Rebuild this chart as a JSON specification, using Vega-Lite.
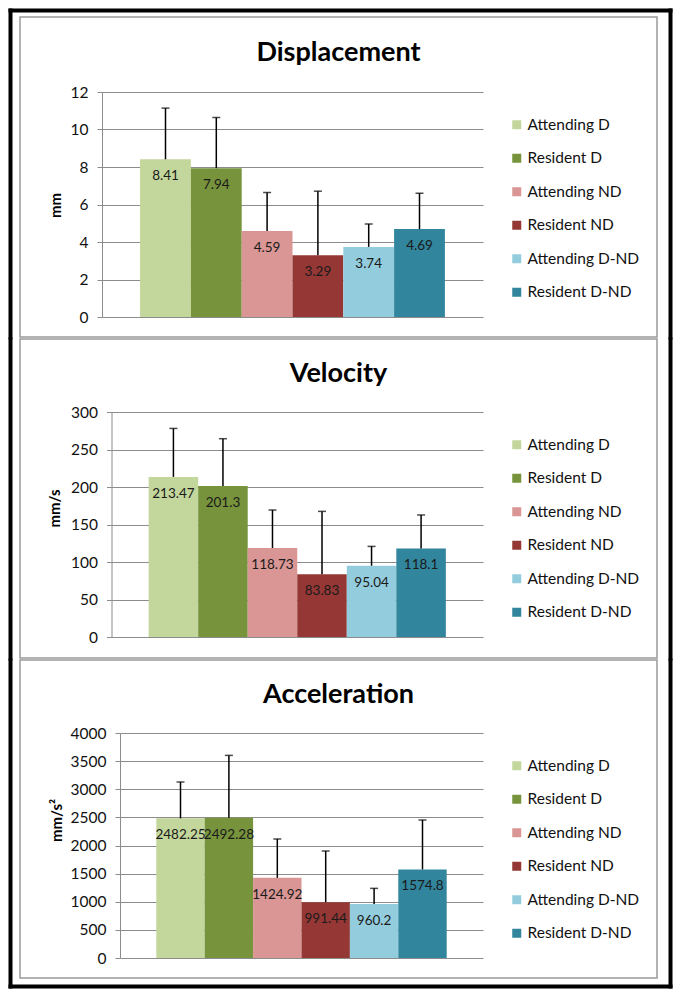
{
  "$schema": "https://vega.github.io/schema/vega-lite/v6.json",
  "background": "white",
  "padding": {"left": 4, "top": 4, "right": 4, "bottom": 4},
  "config": {
    "view": {"stroke": "#9a9a9a", "strokeWidth": 1.5},
    "font": "Lato",
    "title": {"font": "Lato", "fontSize": 27, "fontWeight": "bold", "color": "#000", "anchor": "middle", "frame": "group"}
  },
  "spacing": 2,
  "bounds": "flush",
  "resolve": {"scale": {"color": "independent"}, "legend": {"color": "independent"}},
  "vconcat": [
    {
      "width": 637, "height": 320,
      "title": {"text": "Displacement", "offset": -62},
      "data": {"values": [
        {"group": "Attending D", "value": 8.41, "hi": 11.14},
        {"group": "Resident D", "value": 7.94, "hi": 10.64},
        {"group": "Attending ND", "value": 4.59, "hi": 6.64},
        {"group": "Resident ND", "value": 3.29, "hi": 6.71},
        {"group": "Attending D-ND", "value": 3.74, "hi": 4.96},
        {"group": "Resident D-ND", "value": 4.69, "hi": 6.60}
      ]},
      "resolve": {"scale": {"x": "independent", "y": "independent"}, "axis": {"x": "independent", "y": "independent"}},
      "layer": [
        {
          "encoding": {
            "x": {"field": "group", "type": "nominal", "sort": null, "axis": null,
                  "scale": {"domain": ["Attending D", "Resident D", "Attending ND", "Resident ND", "Attending D-ND", "Resident D-ND"], "range": [82, 463], "paddingInner": 0, "paddingOuter": 0.75}},
            "y": {"field": "value", "type": "quantitative",
                  "scale": {"domain": [0, 12], "range": [300, 75], "nice": false, "zero": true},
                  "axis": {"orient": "left", "offset": -82, "values": [0, 2, 4, 6, 8, 10, 12], "format": "d", "grid": true, "gridColor": "#8c8c8c", "gridWidth": 1,
                           "domainColor": "#8c8c8c", "tickColor": "#8c8c8c", "tickSize": 5, "labelFont": "Lato", "labelFontSize": 15.5, "labelColor": "#111",
                           "labelPadding": 9, "title": "mm", "titleFont": "Lato", "titleFontSize": 15, "titleFontWeight": "bold", "titleColor": "#000",
                           "titleAngle": 270, "titleX": -47, "titleY": 188, "titleAlign": "center", "titleBaseline": "middle"}}
          },
          "layer": [
            {"mark": {"type": "bar"},
             "encoding": {"color": {"field": "group", "type": "nominal",
               "scale": {"domain": ["Attending D", "Resident D", "Attending ND", "Resident ND", "Attending D-ND", "Resident D-ND"], "range": ["#C3D69B", "#77933C", "#D99694", "#953735", "#93CDDD", "#31859C"]},
               "legend": {"orient": "none", "legendX": 489, "legendY": 100, "title": null, "symbolType": "square", "symbolSize": 81, "symbolStrokeWidth": 0,
                          "labelFont": "Lato", "labelFontSize": 15.5, "labelColor": "#111", "labelOffset": 3, "rowPadding": 16.5, "padding": 0}}}},
            {"mark": {"type": "rule", "color": "#000", "strokeWidth": 1.5}, "encoding": {"y2": {"field": "hi"}}},
            {"mark": {"type": "tick", "color": "#000", "thickness": 1.5, "size": 8}, "encoding": {"y": {"field": "hi", "type": "quantitative"}}},
            {"mark": {"type": "text", "font": "Lato", "fontSize": 13.5, "baseline": "middle", "dy": 17, "color": "#1a1a1a"},
             "encoding": {"text": {"field": "value", "type": "nominal"}}}
          ]
        },
        {"mark": {"type": "point", "opacity": 0},
         "encoding": {"y": {"datum": 0, "type": "quantitative", "scale": {"domain": [0, 1], "range": [-9, 322]},
           "axis": {"orient": "left", "offset": 10, "grid": false, "ticks": false, "labels": false, "title": null, "domainColor": "#000", "domainWidth": 4}}}},
        {"mark": {"type": "point", "opacity": 0},
         "encoding": {"y": {"datum": 0, "type": "quantitative", "scale": {"domain": [0, 1], "range": [-9, 322]},
           "axis": {"orient": "right", "offset": 13, "grid": false, "ticks": false, "labels": false, "title": null, "domainColor": "#000", "domainWidth": 4}}}},
        {"mark": {"type": "point", "opacity": 0},
         "encoding": {"x": {"datum": 0, "type": "quantitative", "scale": {"domain": [0, 1], "range": [-12, 652]},
           "axis": {"orient": "top", "offset": 7, "grid": false, "ticks": false, "labels": false, "title": null, "domainColor": "#000", "domainWidth": 4}}}}
      ]
    },
    {
      "width": 637, "height": 319,
      "title": {"text": "Velocity", "offset": -54},
      "data": {"values": [
        {"group": "Attending D", "value": 213.47, "hi": 278.1},
        {"group": "Resident D", "value": 201.3, "hi": 264.4},
        {"group": "Attending ND", "value": 118.73, "hi": 169.3},
        {"group": "Resident ND", "value": 83.83, "hi": 167.5},
        {"group": "Attending D-ND", "value": 95.04, "hi": 120.8},
        {"group": "Resident D-ND", "value": 118.1, "hi": 162.7}
      ]},
      "resolve": {"scale": {"x": "independent", "y": "independent"}, "axis": {"x": "independent", "y": "independent"}},
      "layer": [
        {
          "encoding": {
            "x": {"field": "group", "type": "nominal", "sort": null, "axis": null,
                  "scale": {"domain": ["Attending D", "Resident D", "Attending ND", "Resident ND", "Attending D-ND", "Resident D-ND"], "range": [91.5, 463], "paddingInner": 0, "paddingOuter": 0.75}},
            "y": {"field": "value", "type": "quantitative",
                  "scale": {"domain": [0, 300], "range": [298, 73], "nice": false, "zero": true},
                  "axis": {"orient": "left", "offset": -91.5, "values": [0, 50, 100, 150, 200, 250, 300], "format": "d", "grid": true, "gridColor": "#8c8c8c", "gridWidth": 1,
                           "domainColor": "#8c8c8c", "tickColor": "#8c8c8c", "tickSize": 5, "labelFont": "Lato", "labelFontSize": 15.5, "labelColor": "#111",
                           "labelPadding": 9, "title": "mm/s", "titleFont": "Lato", "titleFontSize": 15, "titleFontWeight": "bold", "titleColor": "#000",
                           "titleAngle": 270, "titleX": -57.5, "titleY": 169, "titleAlign": "center", "titleBaseline": "middle"}}
          },
          "layer": [
            {"mark": {"type": "bar"},
             "encoding": {"color": {"field": "group", "type": "nominal",
               "scale": {"domain": ["Attending D", "Resident D", "Attending ND", "Resident ND", "Attending D-ND", "Resident D-ND"], "range": ["#C3D69B", "#77933C", "#D99694", "#953735", "#93CDDD", "#31859C"]},
               "legend": {"orient": "none", "legendX": 489, "legendY": 98, "title": null, "symbolType": "square", "symbolSize": 81, "symbolStrokeWidth": 0,
                          "labelFont": "Lato", "labelFontSize": 15.5, "labelColor": "#111", "labelOffset": 3, "rowPadding": 16.5, "padding": 0}}}},
            {"mark": {"type": "rule", "color": "#000", "strokeWidth": 1.5}, "encoding": {"y2": {"field": "hi"}}},
            {"mark": {"type": "tick", "color": "#000", "thickness": 1.5, "size": 8}, "encoding": {"y": {"field": "hi", "type": "quantitative"}}},
            {"mark": {"type": "text", "font": "Lato", "fontSize": 13.5, "baseline": "middle", "dy": 17, "color": "#1a1a1a"},
             "encoding": {"text": {"field": "value", "type": "nominal"}}}
          ]
        },
        {"mark": {"type": "point", "opacity": 0},
         "encoding": {"y": {"datum": 0, "type": "quantitative", "scale": {"domain": [0, 1], "range": [-2, 321]},
           "axis": {"orient": "left", "offset": 10, "grid": false, "ticks": false, "labels": false, "title": null, "domainColor": "#000", "domainWidth": 4}}}},
        {"mark": {"type": "point", "opacity": 0},
         "encoding": {"y": {"datum": 0, "type": "quantitative", "scale": {"domain": [0, 1], "range": [-2, 321]},
           "axis": {"orient": "right", "offset": 13, "grid": false, "ticks": false, "labels": false, "title": null, "domainColor": "#000", "domainWidth": 4}}}}
      ]
    },
    {
      "width": 637, "height": 318,
      "title": {"text": "Acceleration", "offset": -54},
      "data": {"values": [
        {"group": "Attending D", "value": 2482.25, "hi": 3129},
        {"group": "Resident D", "value": 2492.28, "hi": 3602},
        {"group": "Attending ND", "value": 1424.92, "hi": 2116},
        {"group": "Resident ND", "value": 991.44, "hi": 1902},
        {"group": "Attending D-ND", "value": 960.2, "hi": 1238},
        {"group": "Resident D-ND", "value": 1574.8, "hi": 2453}
      ]},
      "resolve": {"scale": {"x": "independent", "y": "independent"}, "axis": {"x": "independent", "y": "independent"}},
      "layer": [
        {
          "encoding": {
            "x": {"field": "group", "type": "nominal", "sort": null, "axis": null,
                  "scale": {"domain": ["Attending D", "Resident D", "Attending ND", "Resident ND", "Attending D-ND", "Resident D-ND"], "range": [100, 463], "paddingInner": 0, "paddingOuter": 0.75}},
            "y": {"field": "value", "type": "quantitative",
                  "scale": {"domain": [0, 4000], "range": [298, 73], "nice": false, "zero": true},
                  "axis": {"orient": "left", "offset": -100, "values": [0, 500, 1000, 1500, 2000, 2500, 3000, 3500, 4000], "format": "d", "grid": true, "gridColor": "#8c8c8c", "gridWidth": 1,
                           "domainColor": "#8c8c8c", "tickColor": "#8c8c8c", "tickSize": 5, "labelFont": "Lato", "labelFontSize": 15.5, "labelColor": "#111",
                           "labelPadding": 9, "title": "mm/s²", "titleFont": "Lato", "titleFontSize": 15, "titleFontWeight": "bold", "titleColor": "#000",
                           "titleAngle": 270, "titleX": -63.5, "titleY": 160, "titleAlign": "center", "titleBaseline": "middle"}}
          },
          "layer": [
            {"mark": {"type": "bar"},
             "encoding": {"color": {"field": "group", "type": "nominal",
               "scale": {"domain": ["Attending D", "Resident D", "Attending ND", "Resident ND", "Attending D-ND", "Resident D-ND"], "range": ["#C3D69B", "#77933C", "#D99694", "#953735", "#93CDDD", "#31859C"]},
               "legend": {"orient": "none", "legendX": 489, "legendY": 98, "title": null, "symbolType": "square", "symbolSize": 81, "symbolStrokeWidth": 0,
                          "labelFont": "Lato", "labelFontSize": 15.5, "labelColor": "#111", "labelOffset": 3, "rowPadding": 16.5, "padding": 0}}}},
            {"mark": {"type": "rule", "color": "#000", "strokeWidth": 1.5}, "encoding": {"y2": {"field": "hi"}}},
            {"mark": {"type": "tick", "color": "#000", "thickness": 1.5, "size": 8}, "encoding": {"y": {"field": "hi", "type": "quantitative"}}},
            {"mark": {"type": "text", "font": "Lato", "fontSize": 13.5, "baseline": "middle", "dy": 17, "color": "#1a1a1a"},
             "encoding": {"text": {"field": "value", "type": "nominal"}}}
          ]
        },
        {"mark": {"type": "point", "opacity": 0},
         "encoding": {"y": {"datum": 0, "type": "quantitative", "scale": {"domain": [0, 1], "range": [-2, 328]},
           "axis": {"orient": "left", "offset": 10, "grid": false, "ticks": false, "labels": false, "title": null, "domainColor": "#000", "domainWidth": 4}}}},
        {"mark": {"type": "point", "opacity": 0},
         "encoding": {"y": {"datum": 0, "type": "quantitative", "scale": {"domain": [0, 1], "range": [-2, 328]},
           "axis": {"orient": "right", "offset": 13, "grid": false, "ticks": false, "labels": false, "title": null, "domainColor": "#000", "domainWidth": 4}}}},
        {"mark": {"type": "point", "opacity": 0},
         "encoding": {"x": {"datum": 0, "type": "quantitative", "scale": {"domain": [0, 1], "range": [-12, 652]},
           "axis": {"orient": "bottom", "offset": 8, "grid": false, "ticks": false, "labels": false, "title": null, "domainColor": "#000", "domainWidth": 4}}}}
      ]
    }
  ]
}
